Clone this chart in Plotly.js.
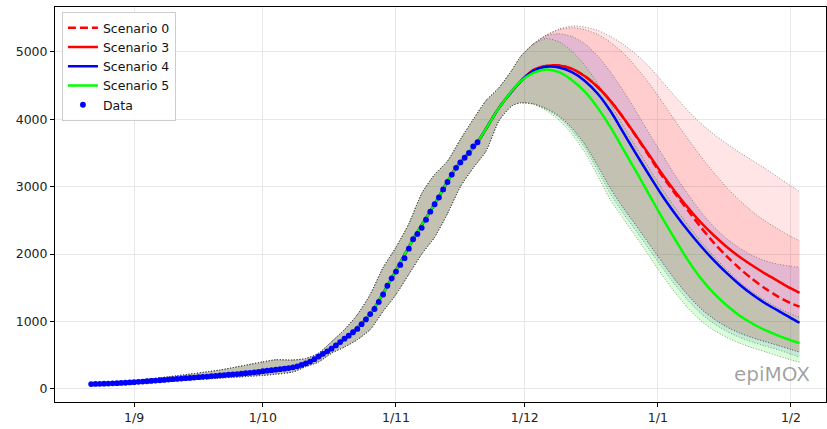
<!DOCTYPE html>
<html>
<head>
<meta charset="utf-8">
<script src="https://cdn.plot.ly/plotly-3.0.1.min.js"></script>
<style>html,body{margin:0;padding:0;background:#fff;}#chart{width:827px;height:429px;}</style>
</head>
<body>
<div id="chart"></div>
<script>
// ---------- observed data (daily, starting 2020-08-22) ----------
const dataStart = '2020-08-22';
const dataValues = [
  71,73,75,77,79,82,85,88,91,95,99,
  104,108,113,118,123,128,133,138,143,148,
  153,158,163,168,173,178,183,188,193,200,
  205,210,215,220,226,232,238,245,252,262,
  270,277,284,292,300,308,320,335,355,378,
  405,440,480,520,557,596,645,695,745,790,
  840,890,960,1030,1110,1185,1290,1400,1530,1640,
  1740,1840,1940,2080,2220,2300,2390,2510,2630,2740,
  2840,2960,3070,3180,3280,3360,3430,3500,3600,3660
];

// ---------- model fit common to all scenarios ----------
const commonLineDates = ['2020-08-22','2020-08-27','2020-09-01','2020-09-06','2020-09-11','2020-09-16','2020-09-21','2020-09-26','2020-10-01','2020-10-06','2020-10-11','2020-10-16','2020-10-21','2020-10-26','2020-10-31','2020-11-05','2020-11-10','2020-11-15','2020-11-20','2020-11-25','2020-11-30'];
const commonLineValues = [72,82,99,123,148,173,200,226,262,300,378,557,790,1110,1640,2220,2740,3280,3660,4170,4560];

const commonBandDates = ['2020-08-22','2020-09-01','2020-09-11','2020-09-21','2020-10-01','2020-10-04','2020-10-08','2020-10-11','2020-10-14','2020-10-17','2020-10-20','2020-10-23','2020-10-26','2020-10-29','2020-11-01','2020-11-04','2020-11-07','2020-11-10','2020-11-13','2020-11-16','2020-11-19','2020-11-22','2020-11-25','2020-11-28','2020-11-30'];
const commonBandUpper = [80,122,195,280,400,432,428,450,530,700,880,1100,1400,1800,2100,2450,2900,3180,3380,3700,4000,4280,4470,4730,4930];
const commonBandLower = [65,90,125,160,200,218,250,330,400,530,620,730,880,1150,1400,1700,2000,2250,2600,3000,3280,3530,3980,4200,4245];

// ---------- scenario projections ----------
const tailDates = ['2020-12-03','2020-12-06','2020-12-09','2020-12-12','2020-12-15','2020-12-18','2020-12-21','2020-12-24','2020-12-27','2020-12-30','2021-01-02','2021-01-05','2021-01-08','2021-01-11','2021-01-14','2021-01-17','2021-01-20','2021-01-23','2021-01-26','2021-01-29','2021-02-01','2021-02-03'];

const s0Line  = [4730,4790,4800,4750,4640,4480,4270,4020,3740,3450,3160,2900,2650,2400,2170,1970,1790,1630,1490,1370,1270,1220];
const s3Line  = [4730,4790,4800,4750,4640,4480,4270,4020,3750,3470,3190,2930,2690,2470,2280,2110,1960,1830,1710,1600,1490,1425];
const s4Line  = [4720,4780,4770,4700,4570,4380,4120,3800,3480,3170,2870,2600,2350,2120,1910,1720,1550,1400,1270,1160,1050,981];
const s5Line  = [4690,4740,4700,4580,4410,4170,3880,3550,3220,2880,2540,2220,1910,1640,1420,1240,1090,970,870,790,720,679];

const s0Upper = [5120,5250,5340,5385,5370,5320,5230,5110,4960,4780,4560,4340,4130,3940,3780,3640,3510,3390,3270,3140,3010,2930];
const s3Upper = [5120,5250,5330,5360,5330,5260,5140,4980,4770,4530,4260,3980,3710,3450,3210,2990,2800,2630,2490,2370,2260,2200];
const s4Upper = [5120,5240,5270,5230,5120,4940,4700,4420,4110,3790,3480,3170,2890,2630,2410,2230,2090,1980,1900,1850,1820,1805];
const s5Upper = [5110,5200,5150,5010,4800,4530,4220,3900,3580,3270,2970,2690,2430,2190,1970,1770,1590,1440,1310,1200,1110,1064];

const s0Lower = [4230,4160,4050,3870,3630,3310,2970,2680,2420,2150,1880,1620,1390,1190,1040,920,830,760,700,645,585,545];
const s3Lower = [4230,4160,4050,3870,3630,3310,2970,2680,2420,2150,1880,1620,1390,1190,1040,920,830,760,700,645,585,545];
const s4Lower = [4228,4150,4030,3830,3580,3240,2890,2600,2340,2070,1800,1545,1315,1120,970,855,765,695,635,580,515,471];
const s5Lower = [4225,4130,3990,3780,3510,3160,2800,2520,2250,1970,1690,1430,1200,1010,870,765,680,610,550,490,430,397];

const scenarioNames = ['Scenario 0','Scenario 3','Scenario 4','Scenario 5'];

// ---------- build traces ----------
function addDays(s, n){ const d = new Date(s+'T00:00:00Z'); d.setUTCDate(d.getUTCDate()+n); return d.toISOString().slice(0,10); }
const dataDates = dataValues.map((v,i)=>addDays(dataStart,i));

const bandX = commonBandDates.concat(tailDates);
const lineX = commonLineDates.concat(tailDates);
const edge = {color:'rgba(60,60,60,0.55)', width:1, dash:'1px,1.8px', shape:'spline', smoothing:0.6};

const bands = [
  {lo:s0Lower, up:s0Upper, fill:'rgba(255,0,0,0.10)'},
  {lo:s3Lower, up:s3Upper, fill:'rgba(255,0,0,0.10)'},
  {lo:s4Lower, up:s4Upper, fill:'rgba(0,0,255,0.10)'},
  {lo:s5Lower, up:s5Upper, fill:'rgba(0,255,0,0.15)'}
];
const traces = [];
bands.forEach(b=>{
  traces.push({x:bandX, y:commonBandLower.concat(b.lo), type:'scatter', mode:'lines', line:edge, showlegend:false, hoverinfo:'skip'});
  traces.push({x:bandX, y:commonBandUpper.concat(b.up), type:'scatter', mode:'lines', line:edge, fill:'tonexty', fillcolor:b.fill, showlegend:false, hoverinfo:'skip'});
});
const lineSpecs = [
  {y:s0Line, color:'#ff0000', dash:'8px,4px'},
  {y:s3Line, color:'#ff0000', dash:'solid'},
  {y:s4Line, color:'#0000ff', dash:'solid'},
  {y:s5Line, color:'#00ff00', dash:'solid'}
];
lineSpecs.forEach((s,i)=>{
  traces.push({x:lineX, y:commonLineValues.concat(s.y), type:'scatter', mode:'lines', name:scenarioNames[i],
    line:{color:s.color, width:2.5, dash:s.dash, shape:'spline', smoothing:0.8}});
});
traces.push({x:dataDates, y:dataValues, type:'scatter', mode:'markers', name:'Data', marker:{color:'#0000ff', size:5.8}});

const font = {family:'DejaVu Sans, sans-serif', size:12.5, color:'#222'};
const layout = {
  width:827, height:429,
  margin:{l:55, r:1, t:7, b:27},
  paper_bgcolor:'#fff', plot_bgcolor:'#fff',
  font:font,
  showlegend:true,
  xaxis:{type:'date', range:['2020-08-13 14:00','2021-02-09 04:00'], tick0:'2020-09-01', dtick:'M1', tickformat:'%-d/%-m',
    ticks:'outside', ticklen:4, tickcolor:'#000', showline:true, linecolor:'#000', linewidth:1, mirror:true,
    showgrid:true, gridcolor:'#e8e8e8', gridwidth:1, zeroline:false, tickfont:font},
  yaxis:{range:[-195,5667], tick0:0, dtick:1000, ticks:'outside', ticklen:4, tickcolor:'#000', showline:true, linecolor:'#000', linewidth:1, mirror:true,
    showgrid:true, gridcolor:'#e8e8e8', gridwidth:1, zeroline:false, tickfont:font},
  legend:{x:0.009, y:0.987, xanchor:'left', yanchor:'top', traceorder:'normal', bgcolor:'rgba(255,255,255,0.85)', bordercolor:'#cccccc', borderwidth:1,
    font:{family:'DejaVu Sans, sans-serif', size:12.5, color:'#111'}, itemwidth:30, tracegroupgap:0},
  annotations:[{text:'epiMOX', xref:'paper', yref:'paper', x:0.982, y:0.035, xanchor:'right', yanchor:'bottom', showarrow:false,
    font:{family:'DejaVu Sans, sans-serif', size:20, color:'rgba(0,0,0,0.38)'}}]
};
Plotly.newPlot('chart', traces, layout, {staticPlot:true, displayModeBar:false});
</script>
</body>
</html>
